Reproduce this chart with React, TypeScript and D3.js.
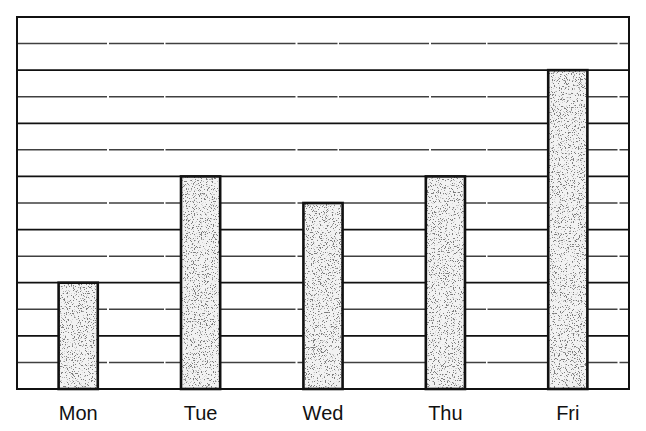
import { useEffect, useRef } from "react";
import * as d3 from "d3";

const days = ["Mon", "Tue", "Wed", "Thu", "Fri"];
const values = [4, 8, 7, 8, 12];
const gridValues = d3.range(0, 15);

export default function App() {
    const svgRef = useRef<SVGSVGElement | null>(null);

    useEffect(() => {
        if (!svgRef.current) return;

        d3.select(svgRef.current).selectAll("*").remove();

        const width = 646;
        const height = 431;
        const margin = { top: 17, right: 17, bottom: 42, left: 17 };
        const innerWidth = width - margin.left - margin.right;
        const innerHeight = height - margin.top - margin.bottom;

        const root = d3.select(svgRef.current).attr("width", width).attr("height", height);

        // speckled fill, like the scanned original
        const defs = root.append("defs");
        const filter = defs
            .append("filter")
            .attr("id", "speckle")
            .attr("x", 0)
            .attr("y", 0)
            .attr("width", "100%")
            .attr("height", "100%");
        filter
            .append("feTurbulence")
            .attr("type", "fractalNoise")
            .attr("baseFrequency", 0.85)
            .attr("numOctaves", 2)
            .attr("seed", 7)
            .attr("result", "noise");
        filter
            .append("feColorMatrix")
            .attr("in", "noise")
            .attr("type", "matrix")
            .attr("values", "0 0 0 0 0.2  0 0 0 0 0.2  0 0 0 0 0.2  14 0 0 0 -8.2")
            .attr("result", "dots");
        filter
            .append("feComposite")
            .attr("in", "dots")
            .attr("in2", "SourceGraphic")
            .attr("operator", "in")
            .attr("result", "clipped");
        const merge = filter.append("feMerge");
        merge.append("feMergeNode").attr("in", "SourceGraphic");
        merge.append("feMergeNode").attr("in", "clipped");

        const svg = root.append("g").attr("transform", `translate(${margin.left},${margin.top})`);

        const x = d3.scaleBand().domain(days).range([0, innerWidth]).paddingInner(0.68).paddingOuter(0.34);
        const y = d3.scaleLinear().domain([0, 14]).range([innerHeight, 0]);

        // grid lines, every other one slightly broken
        svg.selectAll(".grid")
            .data(gridValues)
            .enter()
            .append("line")
            .attr("class", "grid")
            .attr("x1", 0)
            .attr("x2", innerWidth)
            .attr("y1", (d) => y(d))
            .attr("y2", (d) => y(d))
            .attr("stroke", "#111")
            .attr("stroke-width", (d) => (d % 2 === 0 ? 1.8 : 1.5))
            .attr("stroke-dasharray", (d) => (d % 2 === 0 ? null : "90 2 55 1.5 130 2 40 1.5"))
            .attr("opacity", (d) => (d % 2 === 0 ? 1 : 0.8));

        // bars
        svg.selectAll(".bar")
            .data(values)
            .enter()
            .append("rect")
            .attr("class", "bar")
            .attr("x", (d, i) => x(days[i]) || 0)
            .attr("y", (d) => y(d))
            .attr("width", x.bandwidth())
            .attr("height", (d) => innerHeight - y(d))
            .attr("fill", "#f2f2f2")
            .attr("filter", "url(#speckle)");

        svg.selectAll(".bar-edge")
            .data(values)
            .enter()
            .append("rect")
            .attr("class", "bar-edge")
            .attr("x", (d, i) => x(days[i]) || 0)
            .attr("y", (d) => y(d))
            .attr("width", x.bandwidth())
            .attr("height", (d) => innerHeight - y(d))
            .attr("fill", "none")
            .attr("stroke", "#111")
            .attr("stroke-width", 2.6);

        // frame
        svg.append("rect")
            .attr("width", innerWidth)
            .attr("height", innerHeight)
            .attr("fill", "none")
            .attr("stroke", "#111")
            .attr("stroke-width", 2);

        // category labels
        svg.selectAll(".label")
            .data(days)
            .enter()
            .append("text")
            .attr("class", "label")
            .attr("x", (d) => (x(d) || 0) + x.bandwidth() / 2)
            .attr("y", innerHeight + 31)
            .attr("text-anchor", "middle")
            .attr("font-family", "Liberation Sans, Arial, sans-serif")
            .attr("font-size", "20px")
            .attr("fill", "#111")
            .text((d) => d);
    }, []);

    return <svg ref={svgRef} style={{ position: "absolute", left: 0, top: 0, display: "block", background: "#fff" }} />;
}
